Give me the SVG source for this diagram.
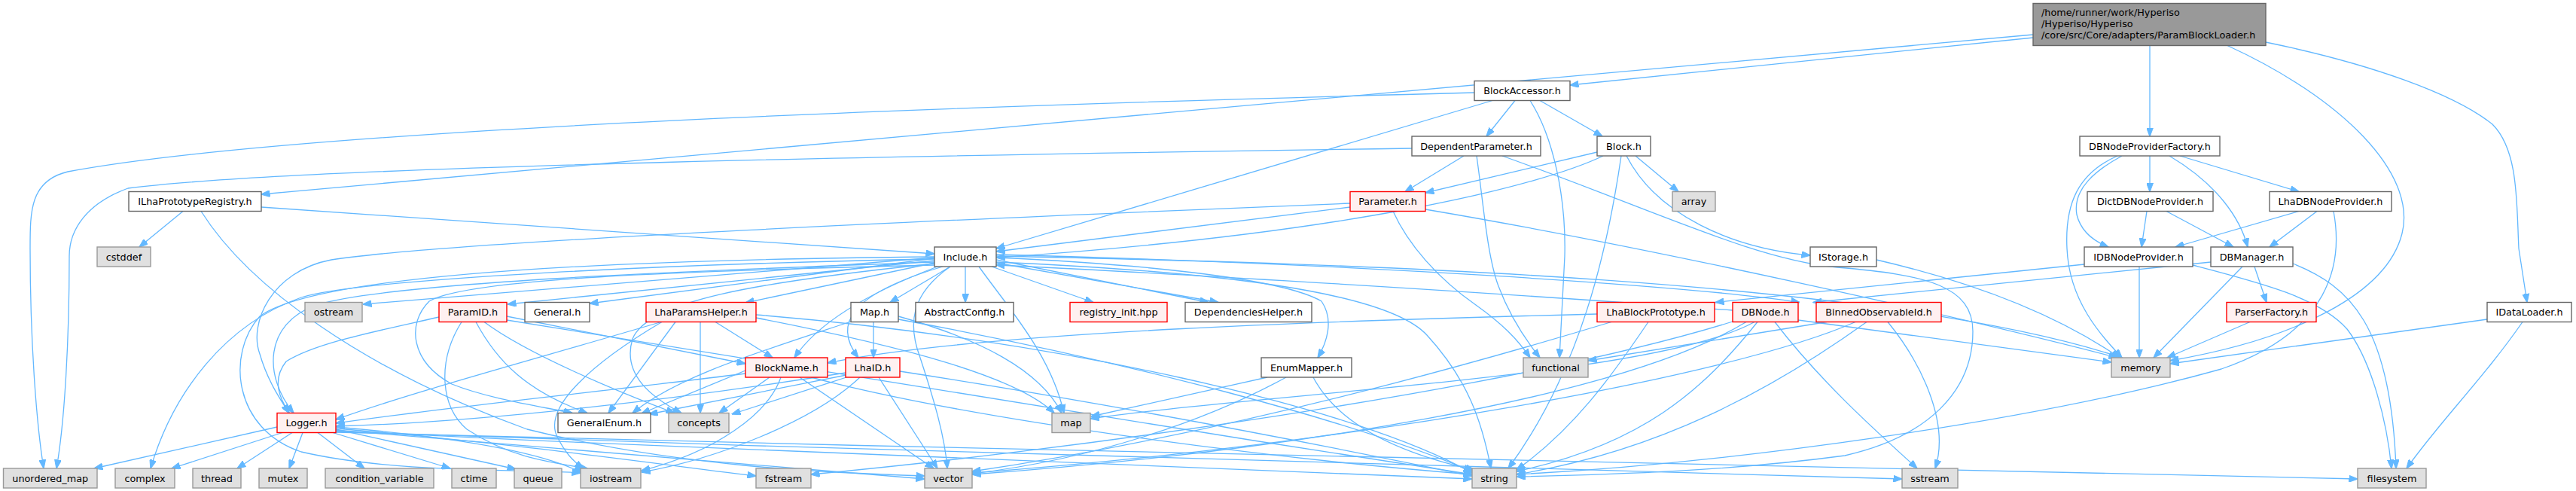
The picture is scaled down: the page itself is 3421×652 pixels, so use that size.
<svg xmlns="http://www.w3.org/2000/svg" width="3421" height="652" viewBox="0 0 3421 652">
<defs>
<marker id="a" markerWidth="12" markerHeight="9" refX="11.5" refY="4.5" orient="auto" markerUnits="userSpaceOnUse"><path d="M0,0 L12,4.5 L0,9 z" fill="#63b8ff" stroke="#63b8ff" stroke-width="1"/></marker>
<style>
text{font-family:"DejaVu Sans","Liberation Sans",sans-serif;font-size:12.8px;fill:#000;text-anchor:middle}
.w rect{fill:#fff;stroke:#666;stroke-width:1.4}
.r rect{fill:#fff0f0;stroke:#f00;stroke-width:1.4}
.g rect{fill:#e0e0e0;stroke:#999;stroke-width:1.4}
.t rect{fill:#999;stroke:#666;stroke-width:1.4}
.t text{text-anchor:start}
#edges path{fill:none;stroke:#63b8ff;stroke-width:1.3;marker-end:url(#a)}
</style>
</defs>
<rect width="3421" height="652" fill="#fff"/>
<g id="edges">
<path d="M2700,50 L2085,113"/>
<path d="M2700,46 L347,258"/>
<path d="M2855,60.5 L2855,181"/>
<path d="M2958,60.5 C3110,130 3210,230 3190,310 C3170,390 3050,450 2882,479"/>
<path d="M3009,56 C3150,85 3260,125 3310,165 C3345,200 3342,270 3345,330 L3356,401.5"/>
<path d="M1958,123 C1300,140 400,170 90,228 C40,240 40,280 40,330 C40,450 48,560 58,622"/>
<path d="M1982,133.5 L1323,330"/>
<path d="M2012,133.5 L1974,181"/>
<path d="M2032,133.5 C2062,180 2080,260 2078,340 L2071,475"/>
<path d="M2045,133.5 L2128,181"/>
<path d="M1875,197 C1300,205 400,220 170,250 C115,270 92,305 92,340 C92,450 86,560 75,622"/>
<path d="M1944,207 L1866,254.5"/>
<path d="M1961,207 C1970,270 1975,340 1990,380 C2005,420 2025,450 2045,475"/>
<path d="M1995,207 C2200,280 2330,345 2440,355 C2560,365 2620,380 2620,440 C2620,520 2560,580 2450,605 C2300,625 2150,630 2014,633"/>
<path d="M2121,202 L1893,256"/>
<path d="M2129,207 C2050,245 1800,310 1323,342"/>
<path d="M2153,207 C2135,330 2100,490 2003,622"/>
<path d="M2172,207 L2229,254.5"/>
<path d="M2160,207 C2200,285 2300,330 2404,339"/>
<path d="M1793,275 L1323,334"/>
<path d="M1793,270 C1300,290 600,320 440,345 C360,360 330,430 345,470 C355,505 372,530 384,548.5"/>
<path d="M1850,280.5 C1870,325 1910,370 1960,405 C1995,430 2015,450 2032,475"/>
<path d="M1893,278 C2200,330 2600,420 2812,475"/>
<path d="M243,280.5 L185,328"/>
<path d="M347,275 L1241,337"/>
<path d="M267,280.5 C330,380 480,490 700,570 C900,620 1100,628 1228,632"/>
<path d="M1241,343 L783,403"/>
<path d="M1241,349 L990,402"/>
<path d="M1262,354 L1182,401.5"/>
<path d="M1282,354 L1282,401.5"/>
<path d="M1245,354 C1150,390 1085,430 1055,475"/>
<path d="M1252,354 C1130,390 1105,430 1140,475"/>
<path d="M1262,354 C1210,390 1205,430 1222,475 C1240,530 1255,580 1258,622"/>
<path d="M1241,350 C1000,375 860,400 840,450 C825,500 870,530 905,548.5"/>
<path d="M1241,346 L674,404"/>
<path d="M1241,342 L482,404"/>
<path d="M1241,348 C900,360 520,375 420,405 C350,430 350,500 390,548.5"/>
<path d="M1241,344 C900,350 480,370 400,395 C300,430 230,520 200,622"/>
<path d="M1241,341 C800,345 420,365 345,420 C300,470 310,570 400,600 C530,630 700,622 771,628"/>
<path d="M1317,354 L1452,401.5"/>
<path d="M1323,345 L1605,401.5"/>
<path d="M1323,349 L1618,401.5"/>
<path d="M1323,342 C1500,350 1700,368 1755,400 C1772,425 1762,455 1750,475"/>
<path d="M1323,348 C1600,360 1840,385 1895,445 C1950,505 1968,560 1980,622"/>
<path d="M1300,354 C1340,410 1395,470 1413,548.5"/>
<path d="M1323,340 C1800,350 2500,370 2818,475"/>
<path d="M1323,338 C1800,350 2250,380 2390,401.5"/>
<path d="M2301,412 C2000,390 1600,365 1323,352"/>
<path d="M1241,352 C900,360 620,370 570,400 C540,430 545,480 600,510 C650,530 720,540 760,548.5"/>
<path d="M2855,207 L2855,254.5"/>
<path d="M2895,207 L3053,254.5"/>
<path d="M2881,207 C2945,245 2975,290 2985,328"/>
<path d="M2818,207 C2785,225 2752,250 2758,285 C2764,310 2785,322 2800,328"/>
<path d="M2812,207 C2760,230 2742,270 2745,330 C2748,400 2790,445 2818,475"/>
<path d="M2851,280.5 L2844,328"/>
<path d="M2877,280.5 L2966,328"/>
<path d="M3053,280.5 L2889,328"/>
<path d="M3077,280.5 L3014,328"/>
<path d="M3099,280.5 C3112,350 3095,440 2950,490 C2700,560 2300,615 2014,630"/>
<path d="M2841,354 L2841,475"/>
<path d="M2768,351 L2278,401.5"/>
<path d="M2912,352 C3000,375 3080,395 3117,437 C3150,480 3170,560 3176,622"/>
<path d="M2978,354 L2860,475"/>
<path d="M2994,354 L3010,401.5"/>
<path d="M3045,350 C3120,380 3175,430 3182,622"/>
<path d="M2936,348 L2408,401.5"/>
<path d="M2988,427.5 L2878,475"/>
<path d="M3303,424 L2882,483"/>
<path d="M3350,427.5 C3300,500 3240,560 3196,622"/>
<path d="M2492,345 C2600,370 2720,410 2815,475"/>
<path d="M2388,425 L2804,481"/>
<path d="M2357,427.5 C2420,510 2500,580 2546,622"/>
<path d="M2334,427.5 C2260,520 2180,590 2014,626"/>
<path d="M2319,427.5 C2150,530 1700,600 1291,630"/>
<path d="M2330,427.5 C2200,500 1700,520 1448,556"/>
<path d="M2301,427 C2000,520 1400,600 1077,630"/>
<path d="M2507,427.5 C2550,480 2590,560 2570,622"/>
<path d="M2479,427.5 C2350,520 2200,600 2014,630"/>
<path d="M2426,427.5 L2109,479"/>
<path d="M2464,427.5 C2300,500 1800,590 1291,628"/>
<path d="M2121,417 C1800,425 1300,440 1099,482"/>
<path d="M2189,427.5 C2140,500 2090,570 2014,624"/>
<path d="M2140,427.5 C1900,500 1600,580 1291,626"/>
<path d="M1683,501 L1449,553"/>
<path d="M1708,501 C1600,560 1450,610 1291,629"/>
<path d="M1744,501 C1775,560 1850,600 1958,624"/>
<path d="M1160,427.5 L1160,475"/>
<path d="M1193,420 C1300,450 1380,490 1410,548.5"/>
<path d="M1193,424 C1500,480 1800,560 1955,626"/>
<path d="M1130,427 C1000,470 900,500 840,548.5"/>
<path d="M950,427.5 L1026,475"/>
<path d="M930,427.5 L930,548.5"/>
<path d="M897,427.5 L808,548.5"/>
<path d="M879,427.5 C790,480 720,540 740,580 C750,600 760,612 775,622"/>
<path d="M878,427.5 C700,480 550,520 446,557"/>
<path d="M1004,418 C1400,450 1800,540 1955,628"/>
<path d="M1004,422 C1200,460 1350,500 1400,548.5"/>
<path d="M583,421 C500,440 420,455 380,480 C360,505 372,530 384,548.5"/>
<path d="M632,427.5 C660,480 700,520 780,548.5"/>
<path d="M643,427.5 C700,470 820,520 896,548.5"/>
<path d="M673,420 L990,483"/>
<path d="M613,427.5 C580,480 585,540 620,570 C680,610 740,615 780,622"/>
<path d="M673,425 C1000,480 1500,560 1955,630"/>
<path d="M990,492 L852,549"/>
<path d="M1022,501 L955,548.5"/>
<path d="M1037,501 C1020,550 950,600 852,625"/>
<path d="M1062,501 L1240,622"/>
<path d="M1077,501 C1300,560 1700,610 1955,630"/>
<path d="M990,496 C800,520 600,540 446,562"/>
<path d="M1124,498 L862,550"/>
<path d="M1124,501 L972,550"/>
<path d="M1167,501 L1245,622"/>
<path d="M1142,501 C1080,560 950,610 852,627"/>
<path d="M1195,493 C1500,540 1800,600 1955,632"/>
<path d="M1123,495 C900,530 650,560 446,566"/>
<path d="M368,567 L125,622"/>
<path d="M375,574.5 L228,622"/>
<path d="M388,574.5 L315,622"/>
<path d="M402,574.5 L384,622"/>
<path d="M422,574.5 L484,622"/>
<path d="M442,574.5 L598,622"/>
<path d="M446,570 L685,623"/>
<path d="M446,567 C600,580 720,600 773,628"/>
<path d="M446,569 C700,590 900,620 1004,632"/>
<path d="M446,571 C800,600 1100,625 1228,636"/>
<path d="M446,572 C1000,600 1600,625 1955,636"/>
<path d="M446,573 C1200,600 2100,625 2526,636"/>
<path d="M446,574 C1400,600 2500,620 3131,636"/>
</g>
<g id="n_top" class="t"><rect x="2700" y="4.5" width="309" height="56"/><text x="2711" y="20.5">/home/runner/work/Hyperiso</text><text x="2711" y="35.5">/Hyperiso/Hyperiso</text><text x="2711" y="50.5">/core/src/Core/adapters/ParamBlockLoader.h</text></g>
<g id="n_blockaccessor" class="w"><rect x="1958" y="107.5" width="127" height="26"/><text x="2021.5" y="125">BlockAccessor.h</text></g>
<g id="n_dependentparameter" class="w"><rect x="1875" y="181" width="171" height="26"/><text x="1960.5" y="198.5">DependentParameter.h</text></g>
<g id="n_block" class="w"><rect x="2121" y="181" width="71" height="26"/><text x="2156.5" y="198.5">Block.h</text></g>
<g id="n_dbnodeproviderfactory" class="w"><rect x="2762" y="181" width="186" height="26"/><text x="2855" y="198.5">DBNodeProviderFactory.h</text></g>
<g id="n_ilhaprototyperegistry" class="w"><rect x="171" y="254.5" width="176" height="26"/><text x="259" y="272">ILhaPrototypeRegistry.h</text></g>
<g id="n_parameter" class="r"><rect x="1793" y="254.5" width="100" height="26"/><text x="1843" y="272">Parameter.h</text></g>
<g id="n_array" class="g"><rect x="2221" y="254.5" width="57" height="26"/><text x="2249.5" y="272">array</text></g>
<g id="n_dictdbnodeprovider" class="w"><rect x="2772" y="254.5" width="167" height="26"/><text x="2855.5" y="272">DictDBNodeProvider.h</text></g>
<g id="n_lhadbnodeprovider" class="w"><rect x="3014" y="254.5" width="162" height="26"/><text x="3095" y="272">LhaDBNodeProvider.h</text></g>
<g id="n_cstddef" class="g"><rect x="129" y="328" width="71" height="26"/><text x="164.5" y="345.5">cstddef</text></g>
<g id="n_include" class="w"><rect x="1241" y="328" width="82" height="26"/><text x="1282" y="345.5">Include.h</text></g>
<g id="n_istorage" class="w"><rect x="2404" y="328" width="88" height="26"/><text x="2448" y="345.5">IStorage.h</text></g>
<g id="n_idbnodeprovider" class="w"><rect x="2768" y="328" width="144" height="26"/><text x="2840" y="345.5">IDBNodeProvider.h</text></g>
<g id="n_dbmanager" class="w"><rect x="2936" y="328" width="109" height="26"/><text x="2990.5" y="345.5">DBManager.h</text></g>
<g id="n_ostream" class="g"><rect x="405" y="401.5" width="76" height="26"/><text x="443" y="419">ostream</text></g>
<g id="n_paramid" class="r"><rect x="583" y="401.5" width="90" height="26"/><text x="628" y="419">ParamID.h</text></g>
<g id="n_general" class="w"><rect x="697" y="401.5" width="86" height="26"/><text x="740" y="419">General.h</text></g>
<g id="n_lhaparamshelper" class="r"><rect x="858" y="401.5" width="146" height="26"/><text x="931" y="419">LhaParamsHelper.h</text></g>
<g id="n_map_h" class="w"><rect x="1130" y="401.5" width="63" height="26"/><text x="1161.5" y="419">Map.h</text></g>
<g id="n_abstractconfig" class="w"><rect x="1216" y="401.5" width="130" height="26"/><text x="1281" y="419">AbstractConfig.h</text></g>
<g id="n_registry_init" class="r"><rect x="1421" y="401.5" width="129" height="26"/><text x="1485.5" y="419">registry_init.hpp</text></g>
<g id="n_dependencieshelper" class="w"><rect x="1574" y="401.5" width="168" height="26"/><text x="1658" y="419">DependenciesHelper.h</text></g>
<g id="n_lhablockprototype" class="r"><rect x="2121" y="401.5" width="156" height="26"/><text x="2199" y="419">LhaBlockPrototype.h</text></g>
<g id="n_dbnode" class="r"><rect x="2301" y="401.5" width="87" height="26"/><text x="2344.5" y="419">DBNode.h</text></g>
<g id="n_binnedobservableid" class="r"><rect x="2412" y="401.5" width="166" height="26"/><text x="2495" y="419">BinnedObservableId.h</text></g>
<g id="n_parserfactory" class="r"><rect x="2957" y="401.5" width="119" height="26"/><text x="3016.5" y="419">ParserFactory.h</text></g>
<g id="n_idataloader" class="w"><rect x="3303" y="401.5" width="112" height="26"/><text x="3359" y="419">IDataLoader.h</text></g>
<g id="n_blockname" class="r"><rect x="990" y="475" width="109" height="26"/><text x="1044.5" y="492.5">BlockName.h</text></g>
<g id="n_lhaid" class="r"><rect x="1123" y="475" width="72" height="26"/><text x="1159" y="492.5">LhaID.h</text></g>
<g id="n_enummapper" class="w"><rect x="1675" y="475" width="120" height="26"/><text x="1735" y="492.5">EnumMapper.h</text></g>
<g id="n_functional" class="g"><rect x="2023" y="475" width="86" height="26"/><text x="2066" y="492.5">functional</text></g>
<g id="n_memory" class="g"><rect x="2804" y="475" width="78" height="26"/><text x="2843" y="492.5">memory</text></g>
<g id="n_logger" class="r"><rect x="368" y="548.5" width="78" height="26"/><text x="407" y="566">Logger.h</text></g>
<g id="n_generalenum" class="w"><rect x="741" y="548.5" width="123" height="26"/><text x="802.5" y="566">GeneralEnum.h</text></g>
<g id="n_concepts" class="g"><rect x="888" y="548.5" width="80" height="26"/><text x="928" y="566">concepts</text></g>
<g id="n_map" class="g"><rect x="1397" y="548.5" width="51" height="26"/><text x="1422.5" y="566">map</text></g>
<g id="n_unordered_map" class="g"><rect x="4.5" y="622" width="124.5" height="26"/><text x="66.75" y="639.5">unordered_map</text></g>
<g id="n_complex" class="g"><rect x="153" y="622" width="79" height="26"/><text x="192.5" y="639.5">complex</text></g>
<g id="n_thread" class="g"><rect x="256" y="622" width="64" height="26"/><text x="288" y="639.5">thread</text></g>
<g id="n_mutex" class="g"><rect x="344" y="622" width="64" height="26"/><text x="376" y="639.5">mutex</text></g>
<g id="n_condition_variable" class="g"><rect x="432" y="622" width="144" height="26"/><text x="504" y="639.5">condition_variable</text></g>
<g id="n_ctime" class="g"><rect x="600" y="622" width="59" height="26"/><text x="629.5" y="639.5">ctime</text></g>
<g id="n_queue" class="g"><rect x="683" y="622" width="63" height="26"/><text x="714.5" y="639.5">queue</text></g>
<g id="n_iostream" class="g"><rect x="771" y="622" width="80" height="26"/><text x="811" y="639.5">iostream</text></g>
<g id="n_fstream" class="g"><rect x="1004" y="622" width="73" height="26"/><text x="1040.5" y="639.5">fstream</text></g>
<g id="n_vector" class="g"><rect x="1228" y="622" width="63" height="26"/><text x="1259.5" y="639.5">vector</text></g>
<g id="n_string" class="g"><rect x="1955" y="622" width="59" height="26"/><text x="1984.5" y="639.5">string</text></g>
<g id="n_sstream" class="g"><rect x="2526" y="622" width="74" height="26"/><text x="2563" y="639.5">sstream</text></g>
<g id="n_filesystem" class="g"><rect x="3131" y="622" width="91" height="26"/><text x="3176.5" y="639.5">filesystem</text></g>
</svg>
